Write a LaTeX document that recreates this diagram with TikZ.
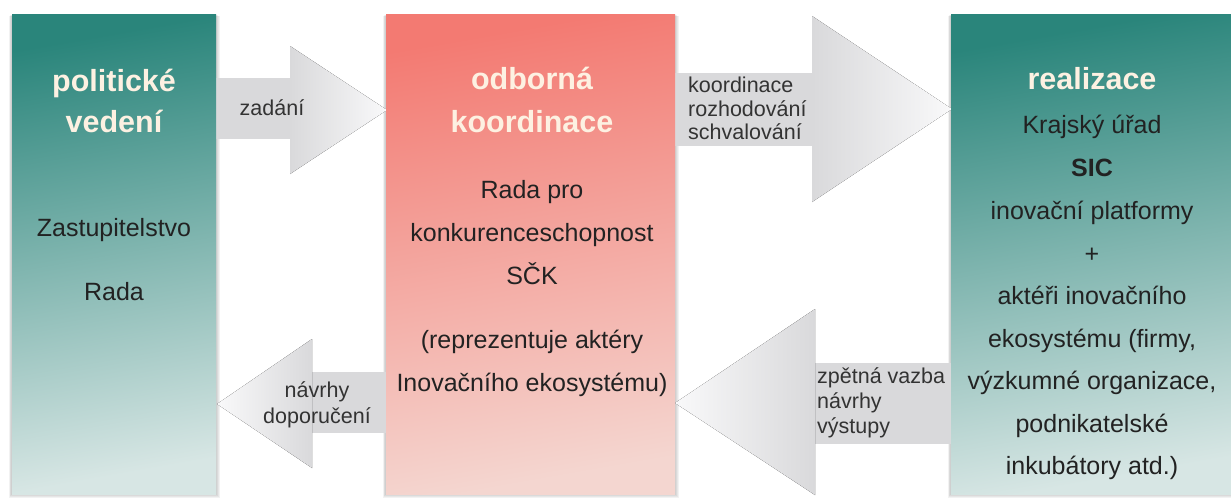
\documentclass[tikz,border=0pt]{standalone}
\usepackage{fontspec}
\setmainfont{Liberation Sans}
\usetikzlibrary{calc}
\definecolor{tealtop}{HTML}{2A857B}
\definecolor{tealbot}{HTML}{D7E6E4}
\definecolor{saltop}{HTML}{F37A72}
\definecolor{salbot}{HTML}{F4D6D0}
\definecolor{arrgray}{HTML}{D9D9DB}
\definecolor{arrlight}{HTML}{F9F9FA}
\definecolor{cream}{HTML}{FDF1E2}
\definecolor{ink}{HTML}{222222}
\definecolor{labink}{HTML}{333333}
\pgfdeclarelayer{bg}
\pgfsetlayers{bg,main}
\tikzset{
  panel/.style={draw=none, inner sep=0pt, anchor=north west, shading=axis, shading angle=10},
  titletext/.style={font=\fontsize{30.5}{36}\selectfont\bfseries, text=cream, anchor=base, inner sep=0pt},
  bodytext/.style={font=\fontsize{25}{30}\selectfont, text=ink, anchor=base, inner sep=0pt},
  labtext/.style={font=\fontsize{21.5}{24}\selectfont, text=labink, inner sep=0pt},
  shaft/.style={fill=arrgray, draw=none},
  headr/.style={left color=arrgray, right color=arrlight, draw=none},
  headl/.style={left color=arrlight, right color=arrgray, draw=none},
}
\begin{document}
\begin{tikzpicture}[x=1pt,y=-1pt]
\useasboundingbox (0,0) rectangle (1231,498);

% ---------- block arrows (behind the panels) ----------
% zadani (right)
\fill[shaft] (214,78) rectangle (291,139);
\fill[headr] (290,46) -- (387,110) -- (290,174) -- cycle;
% koordinace (right)
\fill[shaft] (672,73) rectangle (813,146);
\fill[headr] (812,16) -- (952,109) -- (812,202) -- cycle;
% navrhy doporuceni (left)
\fill[shaft] (310,372) rectangle (388,433);
\fill[headl] (217,404) -- (312,339) -- (312,468) -- cycle;
% zpetna vazba (left)
\fill[shaft] (813,363) rectangle (953,444);
\fill[headl] (675,403) -- (815,309) -- (815,495) -- cycle;

% ---------- panels ----------
\node[panel, top color=tealtop, bottom color=tealbot, shading angle=10,
      minimum width=204pt, minimum height=480pt] (pol) at (12,14) {};
\node[panel, top color=saltop, bottom color=salbot, shading angle=10,
      minimum width=289pt, minimum height=480pt] (mid) at (386,14) {};
\node[panel, top color=tealtop, bottom color=tealbot, shading angle=10,
      minimum width=280pt, minimum height=480pt] (real) at (951,14) {};

% soft shadows
\begin{pgfonlayer}{bg}
\foreach \n in {pol,mid,real}{
  \foreach \i in {1,...,4}{
    \fill[black, opacity=0.05]
      ($(\n.north west)+(-\i*0.8,\i*0.6)$) rectangle ($(\n.south east)+(\i*0.8,\i*0.9)$);
  }
}
\end{pgfonlayer}

% ---------- left panel text ----------
\node[titletext] (t1a) at (114,91) {politické};
\node[titletext] (t1b) at (114,132) {vedení};
\node[bodytext] (p1) at (114,236) {Zastupitelstvo};
\node[bodytext] (p2) at (114,300) {Rada};

% ---------- middle panel text ----------
\node[titletext] (t2a) at (532,89) {odborná};
\node[titletext] (t2b) at (532,132) {koordinace};
\node[bodytext] (m1) at (532,198) {Rada pro};
\node[bodytext] (m2) at (532,241) {konkurenceschopnost};
\node[bodytext] (m3) at (532,284) {SČK};
\node[bodytext] (m4) at (532,348) {(reprezentuje aktéry};
\node[bodytext] (m5) at (532,391) {Inovačního ekosystému)};

% ---------- right panel text ----------
\node[titletext] (t3) at (1092,89) {realizace};
\node[bodytext] (r1) at (1092,133) {Krajský úřad};
\node[bodytext, font=\fontsize{25}{30}\selectfont\bfseries] (r2) at (1092,176) {SIC};
\node[bodytext] (r3) at (1092,219) {inovační platformy};
\node[bodytext] (r4) at (1092,262) {+};
\node[bodytext] (r5) at (1092,304) {aktéři inovačního};
\node[bodytext] (r6) at (1092,347) {ekosystému (firmy,};
\node[bodytext] (r7) at (1092,389) {výzkumné organizace,};
\node[bodytext] (r8) at (1092,432) {podnikatelské};
\node[bodytext] (r9) at (1092,474) {inkubátory atd.)};

% ---------- arrow labels ----------
\node[labtext, anchor=base] (a1) at (272,115) {zadání};
\node[labtext, anchor=base west] (a2a) at (688,92) {koordinace};
\node[labtext, anchor=base west] (a2b) at (688,116) {rozhodování};
\node[labtext, anchor=base west] (a2c) at (688,139) {schvalování};
\node[labtext, anchor=base] (a3a) at (317,397) {návrhy};
\node[labtext, anchor=base] (a3b) at (317,423) {doporučení};
\node[labtext, anchor=base west] (a4a) at (817,383) {zpětná vazba};
\node[labtext, anchor=base west] (a4b) at (817,408) {návrhy};
\node[labtext, anchor=base west] (a4c) at (817,433) {výstupy};
\end{tikzpicture}
\end{document}
